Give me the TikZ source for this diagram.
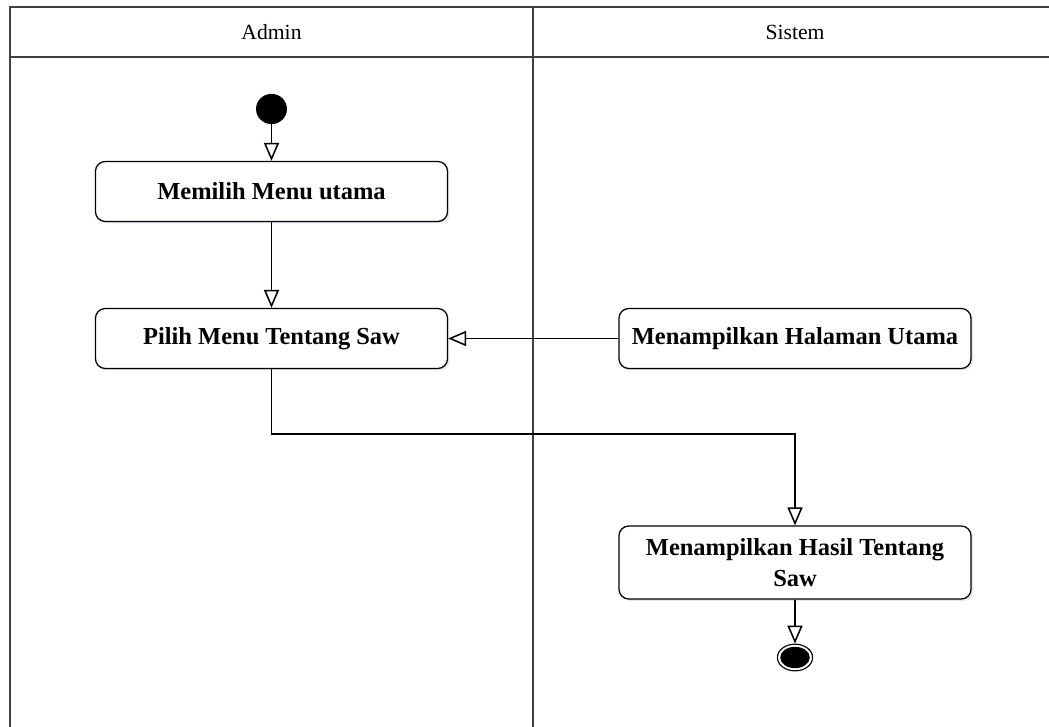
\documentclass[tikz,border=0pt]{standalone}
\usepackage{fontspec}
\setmainfont{Liberation Serif}
\usetikzlibrary{arrows.meta, positioning, shadows, shapes.geometric}
\tikzset{
  activity/.style={
    rectangle, rounded corners=7pt, minimum width=8.8cm, minimum height=1.5cm,
    align=center, draw=black, line width=0.9pt, fill=white,
    font=\fontsize{17.4}{21.6}\selectfont\bfseries,
    drop shadow={shadow xshift=0.3ex,shadow yshift=-0.3ex,opacity=0.35,fill=cyan!25!blue!30}
  },
  lane/.style={line width=1.3pt, draw=black!75},
  lanelabel/.style={font=\fontsize{15.4}{18}\selectfont},
  flow/.style={-{Triangle[open, length=12.8pt, width=10.7pt]}, line width=1.1pt}
}

\begin{document}
\begin{tikzpicture}[x=0.025cm, y=-0.025cm]
\useasboundingbox (0,0) rectangle (1049,727);

% swimlanes
\draw[lane] (10,727) -- (10,7) -- (1049,7);
\draw[lane] (10,57) -- (1049,57);
\draw[lane] (533,7) -- (533,727);
\node[lanelabel] (admin) at (271.5,32) {Admin};
\node[lanelabel] (sistem) at (795,32) {Sistem};

% start and end
\node[ellipse, fill=black, minimum width=22pt, minimum height=21.5pt, inner sep=0pt] (start) at (271.5,109) {};
\node[ellipse, draw=black, line width=0.8pt, minimum width=25pt, minimum height=19pt, inner sep=0pt] (stop) at (795,657.5) {};
\fill (stop.center) ellipse (10.5pt and 7.6pt);

% activities
\node[activity] (menu_utama) at (271.5,191.5) {Memilih Menu utama};
\node[activity] (pilih_saw) at (271.5,338.5) {Pilih Menu Tentang Saw};
\node[activity] (halaman_utama) at (795,338.5) {Menampilkan Halaman Utama};
\node[activity, minimum height=1.825cm] (hasil_saw) at (795,562.5) {Menampilkan Hasil Tentang\\Saw};

\draw[flow] (start) -- (menu_utama);
\draw[flow] (menu_utama) -- (pilih_saw);
\draw[flow] (halaman_utama) -- (pilih_saw);
\draw[flow] (pilih_saw.south) |- (533,434) -| (hasil_saw.north);
\draw[flow] (hasil_saw) -- (stop);

\end{tikzpicture}
\end{document}
